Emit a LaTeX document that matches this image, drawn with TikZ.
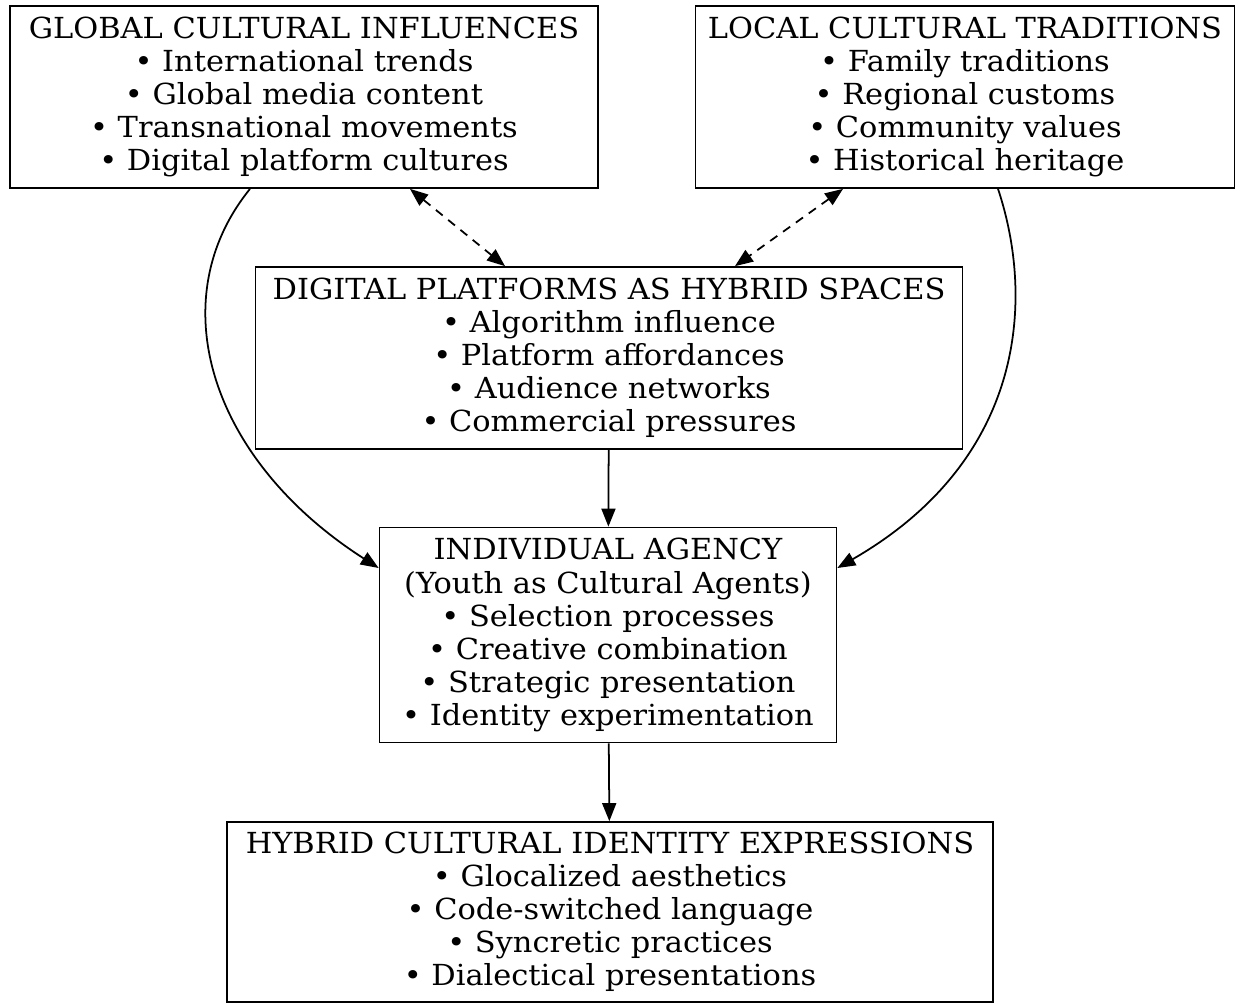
\documentclass[tikz,border=0pt]{standalone}
\usepackage{fontspec}
\setmainfont[FakeStretch=1.05]{DejaVu Serif}
\usetikzlibrary{arrows.meta}
\begin{document}
\begin{tikzpicture}[x=0.02cm, y=-0.02cm,
	box/.style={draw, line width=1pt, align=center, inner sep=0pt,
		font=\fontsize{16.5}{18.8}\selectfont},
	link/.style={line width=1pt, -{Triangle[length=0.36cm, width=0.28cm]}},
	both/.style={link, {Triangle[length=0.36cm, width=0.28cm]}-{Triangle[length=0.36cm, width=0.28cm]}, dash pattern=on 5pt off 4pt}]
	\useasboundingbox (0,0) rectangle (1243,1004);
	% boxes
	\node[box, minimum width=11.76cm, minimum height=3.64cm] (global) at (304,97)
		{GLOBAL CULTURAL INFLUENCES\\ • International trends\\ • Global media content\\ • Transnational movements\\ • Digital platform cultures};
	\node[box, minimum width=10.78cm, minimum height=3.64cm] (local) at (965,97)
		{LOCAL CULTURAL TRADITIONS\\ • Family traditions\\ • Regional customs\\ • Community values\\ • Historical heritage};
	\node[box, minimum width=14.14cm, minimum height=3.64cm] (digital) at (609,358)
		{DIGITAL PLATFORMS AS HYBRID SPACES\\ • Algorithm influence\\ • Platform affordances\\ • Audience networks\\ • Commercial pressures};
	\node[box, minimum width=9.14cm, minimum height=4.3cm] (agency) at (608,635)
		{INDIVIDUAL AGENCY\\ (Youth as Cultural Agents)\\ • Selection processes\\ • Creative combination\\ • Strategic presentation\\ • Identity experimentation};
	\node[box, minimum width=15.32cm, minimum height=3.6cm] (hybrid) at (610,912)
		{HYBRID CULTURAL IDENTITY EXPRESSIONS\\ • Glocalized aesthetics\\ • Code-switched language\\ • Syncretic practices\\ • Dialectical presentations};
	% dashed two-way links
	\draw[both] ([xshift=2.12cm]global.south) -- ([xshift=-2.08cm]digital.north);
	\draw[both] ([xshift=-2.44cm]local.south) -- ([xshift=2.52cm]digital.north);
	% straight arrows
	\draw[link] (digital) -- (agency);
	\draw[link] (agency) -- (hybrid);
	% the curved parts
	\draw[link] ([xshift=-1.08cm]global.south) .. controls (160,300) and (210,460) .. ([yshift=1.34cm]agency.west);
	\draw[link] ([xshift=0.66cm]local.south) .. controls (1035,300) and (1025,460) .. ([yshift=1.34cm]agency.east);
\end{tikzpicture}
\end{document}
